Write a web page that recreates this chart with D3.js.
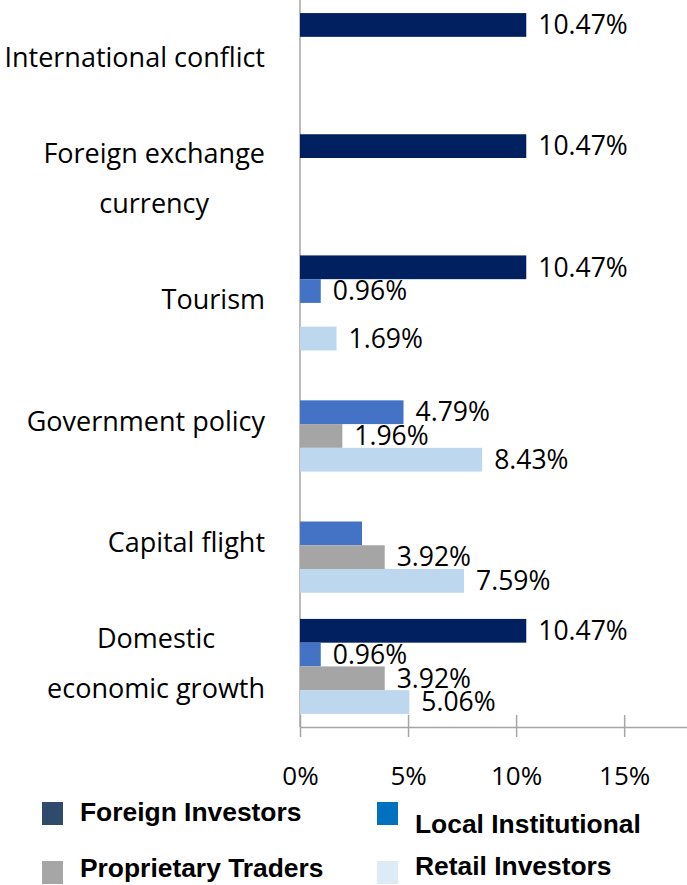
<!DOCTYPE html>
<html lang="en">
<head>
<meta charset="UTF-8">
<script src="https://cdn.jsdelivr.net/npm/d3@7"></script>
<title>Factors by investor type</title>
<style>
    body { margin: 0; background: #fff; }
    .val { font-family: "Open Sans", "Noto Sans", sans-serif; font-size: 26.5px; fill: #000; }
    .cat { font-family: "Open Sans", "Noto Sans", sans-serif; font-size: 27px; fill: #000; }
    .leg { font-family: "Liberation Sans", Arial, sans-serif; font-weight: bold; font-size: 26.4px; fill: #000; }
</style>
</head>
<body>
<svg id="chart" width="687" height="885"></svg>
<script>
// categories, top to bottom
const categories = [
    "International conflict",
    "Foreign exchange\ncurrency",
    "Tourism",
    "Government policy",
    "Capital flight",
    "Domestic\neconomic growth"
];
const seriesNames = ["Foreign Investors", "Local Institutional", "Proprietary Traders", "Retail Investors"];
// values in %
const foreignInv = [10.47, 10.47, 10.47, 0, 0, 10.47];
const localInst  = [0, 0, 0.96, 4.79, 2.87, 0.96];
const propTrade  = [0, 0, 0, 1.96, 3.92, 3.92];
const retailInv  = [0, 0, 1.69, 8.43, 7.59, 5.06];
const xTicks = [0, 5, 10, 15];
// labels the original chart does not show
const hiddenLabels = [["Capital flight", "Local Institutional"]];

const barColors = ["#002060", "#4472C4", "#A5A5A5", "#BDD7EE"];
const legendColors = ["#2E4B6B", "#0070C0", "#A6A6A6", "#DDEBF7"];

const svg = d3.select("#chart");
const allSeries = [foreignInv, localInst, propTrade, retailInv];

const x = d3.scaleLinear().domain([0, 18]).range([300, 689]);
const y = d3.scaleBand().domain(categories).range([0, 727]).paddingInner(0.216).paddingOuter(0.108);
const ySub = d3.scaleBand().domain(seriesNames).range([0, y.bandwidth()]);

// x axis
const xAxis = svg.append("g")
    .attr("transform", "translate(0,727)")
    .call(d3.axisBottom(x).tickValues(xTicks).tickFormat(d => d + "%").tickSizeOuter(0).tickPadding(34));
xAxis.select(".domain").attr("stroke", "#A6A6A6").attr("stroke-width", 1.5);
xAxis.selectAll(".tick line").attr("stroke", "#A6A6A6").attr("stroke-width", 1.5).attr("y1", -12).attr("y2", 10);
xAxis.selectAll(".tick text").style("font-family", "'Open Sans', sans-serif").style("font-size", "26px").attr("fill", "#000");

// y axis line
svg.append("line")
    .attr("x1", x(0)).attr("x2", x(0))
    .attr("y1", 0).attr("y2", 727)
    .attr("stroke", "#A6A6A6").attr("stroke-width", 1.5);

// bars
const rows = [];
categories.forEach((c, i) => {
    seriesNames.forEach((s, j) => {
        rows.push({ cat: c, series: s, idx: j, v: allSeries[j][i] });
    });
});
const drawn = rows.filter(d => d.v > 0);

svg.append("g").selectAll("rect")
    .data(drawn)
    .enter().append("rect")
    .attr("x", x(0))
    .attr("y", d => y(d.cat) + ySub(d.series))
    .attr("width", d => x(d.v) - x(0))
    .attr("height", ySub.bandwidth())
    .attr("fill", d => barColors[d.idx]);

const isHidden = d => hiddenLabels.some(h => h[0] === d.cat && h[1] === d.series);
svg.append("g").selectAll("text")
    .data(drawn.filter(d => !isHidden(d)))
    .enter().append("text")
    .attr("class", "val")
    .attr("x", d => x(d.v) + 12)
    .attr("y", d => y(d.cat) + ySub(d.series) + ySub.bandwidth() / 2)
    .attr("dy", "0.35em")
    .text(d => d.v.toFixed(2) + "%");

// category labels
const catG = svg.append("g");
categories.forEach(c => {
    const lines = c.split("\n");
    const g = catG.append("g");
    const lineH = 50;
    const cy = y(c) + y.bandwidth() / 2 - 3;
    const t = g.selectAll("text").data(lines).enter().append("text")
        .attr("class", "cat")
        .attr("y", (d, k) => cy + (k - (lines.length - 1) / 2) * lineH)
        .attr("dy", "0.35em")
        .text(d => d);
    let maxW = 0;
    t.each(function () { maxW = Math.max(maxW, this.getComputedTextLength()); });
    t.attr("text-anchor", "middle").attr("x", 265 - maxW / 2);
});

// legend
const legPos = [[42, 802, 821], [377, 802, 833], [42, 861, 877], [377, 861, 875]];
const leg = svg.append("g");
seriesNames.forEach((s, j) => {
    const p = legPos[j];
    leg.append("rect").attr("x", p[0]).attr("y", p[1]).attr("width", 21).attr("height", 23).attr("fill", legendColors[j]);
    leg.append("text").attr("class", "leg").attr("x", p[0] + 38).attr("y", p[2]).text(s);
});
</script>
</body>
</html>
